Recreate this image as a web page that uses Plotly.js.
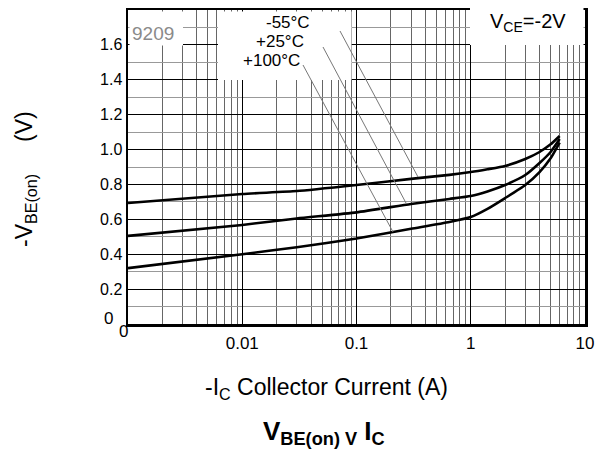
<!DOCTYPE html>
<html><head><meta charset="utf-8">
<script src="https://cdn.plot.ly/plotly-3.0.1.min.js"></script>
<style>html,body{margin:0;padding:0;background:#fff}#chart{width:595px;height:453px}</style>
</head><body><div id="chart"></div>
<script>
// Collector current (A)
const ic = [0.001, 0.01, 0.03, 0.1, 0.3, 0.65, 1, 1.4, 2, 3, 4, 5, 6];
// -VBE(on) (V)
const vbe_m55 = [0.694, 0.745, 0.762, 0.797, 0.832, 0.855, 0.871, 0.887, 0.906, 0.946, 0.986, 1.03, 1.078];
const vbe_p25 = [0.505, 0.568, 0.605, 0.640, 0.688, 0.717, 0.734, 0.760, 0.797, 0.854, 0.923, 0.986, 1.06];
const vbe_p100 = [0.32, 0.40, 0.44, 0.49, 0.546, 0.585, 0.613, 0.660, 0.722, 0.797, 0.871, 0.95, 1.04];
const seriesNames = ['-55°C', '+25°C', '+100°C'];
const xTickVals = [0.01, 0.1, 1, 10];
const xTickText = ['0.01', '0.1', '1', '10'];
const yTickVals = [0.2, 0.4, 0.6, 0.8, 1.0, 1.2, 1.4, 1.6];
const yTickText = ['0.2', '0.4', '0.6', '0.8', '1.0', '1.2', '1.4', '1.6'];

const xMinor = [];
[0.001, 0.01, 0.1, 1].forEach(d => { for (let k = 2; k <= 9; k++) xMinor.push(+(d * k).toPrecision(3)); });
const yMinor = [0.1, 0.3, 0.5, 0.7, 0.9, 1.1, 1.3, 1.5, 1.7];

const F = 'Liberation Sans, Arial, sans-serif';
const lineStyle = {color: '#000', width: 2.6, shape: 'spline', smoothing: 0.5};
const traces = [vbe_m55, vbe_p25, vbe_p100].map((v, i) => ({
  x: ic, y: v, name: seriesNames[i], type: 'scatter', mode: 'lines', line: lineStyle, hoverinfo: 'x+y'
}));

// plot area: px 128..585, py 10..324
const L = 128, R = 10, T = 10, B = 129, PW = 457, PH = 314;
const px = p => (p - L) / PW;
const py = p => (T + PH - p) / PH;

const leaders = [
  [340, 31, 418, 177],
  [323, 47, 406, 203],
  [303, 65, 393, 232]
];

const shapes = [
  {type: 'rect', xref: 'paper', yref: 'paper', x0: px(129.5), x1: px(183), y0: py(45.5), y1: py(11.5), fillcolor: '#fff', line: {width: 0}, layer: 'above'},
  {type: 'rect', xref: 'paper', yref: 'paper', x0: px(218), x1: px(351.5), y0: py(80), y1: py(11.5), fillcolor: '#fff', line: {width: 0}, layer: 'above'},
  {type: 'rect', xref: 'paper', yref: 'paper', x0: px(470), x1: px(583.5), y0: py(45), y1: py(8), fillcolor: '#fff', line: {width: 0}, layer: 'above'}
].concat(leaders.map(l => ({
  type: 'line', xref: 'paper', yref: 'paper', x0: px(l[0]), y0: py(l[1]), x1: px(l[2]), y1: py(l[3]),
  line: {color: '#777', width: 1}, layer: 'above'
})));

const annotations = [
  {text: '9209', xref: 'paper', yref: 'paper', x: px(130), y: py(33), xanchor: 'left', yanchor: 'middle', showarrow: false, font: {family: F, size: 19, color: '#8a8a8a'}},
  {text: seriesNames[0], xref: 'paper', yref: 'paper', x: px(312), y: py(23), xanchor: 'right', yanchor: 'middle', showarrow: false, font: {family: F, size: 17, color: '#000'}},
  {text: seriesNames[1], xref: 'paper', yref: 'paper', x: px(306), y: py(42), xanchor: 'right', yanchor: 'middle', showarrow: false, font: {family: F, size: 17, color: '#000'}},
  {text: seriesNames[2], xref: 'paper', yref: 'paper', x: px(302), y: py(61), xanchor: 'right', yanchor: 'middle', showarrow: false, font: {family: F, size: 17, color: '#000'}},
  {text: 'V<sub>CE</sub>=-2V', xref: 'paper', yref: 'paper', x: px(528), y: py(23), xanchor: 'center', yanchor: 'middle', showarrow: false, font: {family: F, size: 20, color: '#000'}},
  {text: '0', xref: 'paper', yref: 'paper', x: px(108), y: py(318), xanchor: 'center', yanchor: 'middle', showarrow: false, font: {family: F, size: 17, color: '#000'}},
  {text: '0', xref: 'paper', yref: 'paper', x: px(123), y: py(331), xanchor: 'center', yanchor: 'middle', showarrow: false, font: {family: F, size: 17, color: '#000'}},
  {text: '-V<sub>BE(on)</sub>\u00a0\u00a0\u00a0\u00a0\u00a0(V)', xref: 'paper', yref: 'paper', x: px(25), y: py(179), xanchor: 'center', yanchor: 'middle', textangle: -90, showarrow: false, font: {family: F, size: 23, color: '#000'}},
  {text: '-I<sub>C</sub> Collector Current (A)', xref: 'paper', yref: 'paper', x: px(326), y: py(388), xanchor: 'center', yanchor: 'middle', showarrow: false, font: {family: F, size: 23, color: '#000'}},
  {text: '<b>V<sub>BE(on) V</sub> I<sub>C</sub></b>', xref: 'paper', yref: 'paper', x: px(324), y: py(432), xanchor: 'center', yanchor: 'middle', showarrow: false, font: {family: F, size: 26, color: '#000'}}
];

const layout = {
  width: 595, height: 453,
  margin: {l: L, r: R, t: T, b: B, pad: 0},
  paper_bgcolor: '#fff', plot_bgcolor: '#fff',
  showlegend: false,
  font: {family: F, color: '#000'},
  xaxis: {
    type: 'log', range: [-3, 1], tickmode: 'array', tickvals: xTickVals, ticktext: xTickText,
    showgrid: true, gridcolor: '#000', gridwidth: 1,
    minor: {tickmode: 'array', tickvals: xMinor, showgrid: true, gridcolor: '#666', gridwidth: 1, ticks: ''},
    showline: true, linecolor: '#000', linewidth: 2.5, mirror: true, ticks: '', zeroline: false,
    tickfont: {family: F, size: 17, color: '#000'}, ticklabelstandoff: 2
  },
  yaxis: {
    range: [0, 1.8], tickmode: 'array', tickvals: yTickVals, ticktext: yTickText,
    showgrid: true, gridcolor: '#000', gridwidth: 1,
    minor: {tickmode: 'array', tickvals: yMinor, showgrid: true, gridcolor: '#999', gridwidth: 1, ticks: ''},
    showline: true, linecolor: '#000', linewidth: 2.5, mirror: true, ticks: '', zeroline: false,
    tickfont: {family: F, size: 16, color: '#000'}, ticklabelstandoff: 0
  },
  shapes: shapes,
  annotations: annotations
};

Plotly.newPlot('chart', traces, layout, {displayModeBar: false, staticPlot: true});
</script>
</body></html>
